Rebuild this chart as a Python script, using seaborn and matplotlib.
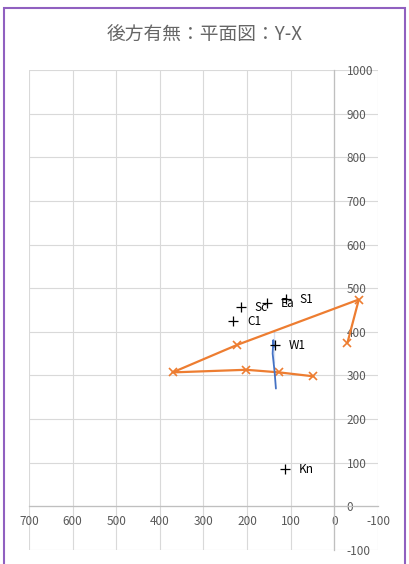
import matplotlib
matplotlib.use("Agg")
import matplotlib.pyplot as plt
from matplotlib.patches import Rectangle
import pandas as pd
import seaborn as sns

# orange path (x markers), in drawing order
path_x = [-30, -56, 223, 371, 202, 126, 48]
path_y = [375, 474, 370, 307, 313, 307, 298]

# blue curve
curve_x = [138.5, 140, 141.5, 138.5, 137, 134]
curve_y = [403, 381, 350, 328, 308, 270]

# labelled + points
point_names = ["Sc", "Ea", "S1", "C1", "W1", "Kn"]
point_x = [215, 155, 111, 232, 136, 113]
point_y = [456, 465, 475, 424, 369, 85]

x_ticks = [700, 600, 500, 400, 300, 200, 100, 0, -100]
y_ticks = [-100, 0, 100, 200, 300, 400, 500, 600, 700, 800, 900, 1000]

sns.set_style("white")
plt.rcParams["font.family"] = ["Noto Sans CJK JP", "DejaVu Sans"]

fig = plt.figure(figsize=(4.10, 5.64), dpi=100)
ax = fig.add_axes([29 / 410, 1 - 550 / 564, 349 / 410, 480 / 564])

path_df = pd.DataFrame({"x": path_x, "y": path_y})
curve_df = pd.DataFrame({"x": curve_x, "y": curve_y})
pts_df = pd.DataFrame({"name": point_names, "x": point_x, "y": point_y})

sns.lineplot(data=path_df, x="x", y="y", sort=False, color="#ED7D31", lw=1.6,
             marker="x", markersize=6, markeredgewidth=1.2, markeredgecolor="#ED7D31",
             ax=ax, zorder=3)
sns.lineplot(data=curve_df, x="x", y="y", sort=False, color="#4472C4", lw=1.3,
             ax=ax, zorder=4)
sns.scatterplot(data=pts_df, x="x", y="y", marker="+", s=55, color="black",
                linewidth=0.9, ax=ax, zorder=5)
for _, r in pts_df.iterrows():
    ax.annotate(r["name"], (r["x"], r["y"]), xytext=(10, 0), textcoords="offset points",
                va="center", ha="left", fontsize=8.5, color="black", zorder=6)

ax.set_xlim(700, -100)
ax.set_ylim(-100, 1000)
ax.set_xticks(x_ticks)
ax.set_yticks(y_ticks)
ax.set_xticklabels([str(v) for v in x_ticks])
ax.set_yticklabels([str(v) for v in y_ticks])
ax.grid(True, color="#d9d9d9", lw=0.8)
ax.set_axisbelow(True)
ax.set_xlabel("")
ax.set_ylabel("")

for s in ["top", "right"]:
    ax.spines[s].set_visible(False)
ax.spines["bottom"].set_position(("data", 0))
ax.spines["left"].set_position(("data", 0))
for s in ["bottom", "left"]:
    ax.spines[s].set_color("#bfbfbf")
    ax.spines[s].set_linewidth(0.9)
    ax.spines[s].set_zorder(2)

ax.tick_params(axis="x", length=0, pad=6, labelsize=8.5, labelcolor="#595959")
ax.tick_params(axis="y", length=0, pad=-9, labelsize=8.5, labelcolor="#595959")
for lab in ax.get_yticklabels():
    lab.set_horizontalalignment("left")

fig.text(205 / 410, 1 - 35 / 564, "後方有無：平面図：Y-X", ha="center", va="center",
         fontsize=13.5, color="#666666")

# purple frame around the chart
fig.patches.append(Rectangle((4 / 410, -0.05), 401 / 410, 1.05 - 8 / 564,
                             transform=fig.transFigure, fill=False,
                             edgecolor="#9060c0", lw=1.5))

fig.savefig("out.png", dpi=100)
